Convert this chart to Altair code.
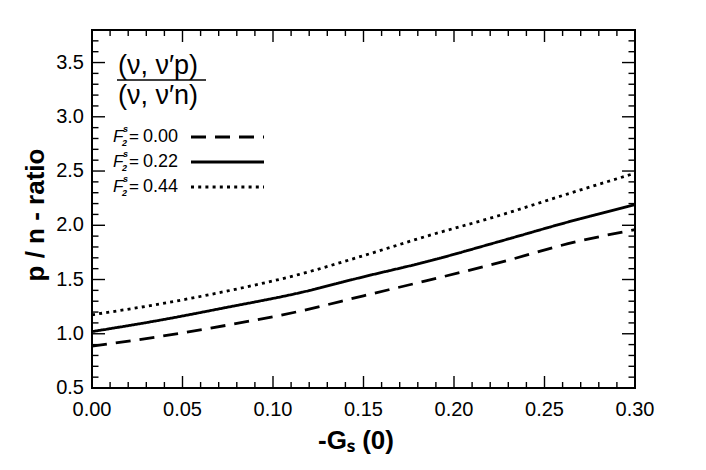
import altair as alt
import pandas as pd

# ---- data ----
gs_values = [0.0, 0.0375, 0.075, 0.114, 0.15, 0.185, 0.225, 0.263, 0.30]
ratio_f000 = [0.885, 0.975, 1.08, 1.205, 1.35, 1.49, 1.655, 1.83, 1.96]
ratio_f022 = [1.02, 1.125, 1.245, 1.375, 1.525, 1.665, 1.85, 2.03, 2.19]
ratio_f044 = [1.175, 1.275, 1.395, 1.545, 1.72, 1.90, 2.09, 2.29, 2.48]
series_labels = ["0.00", "0.22", "0.44"]

x_label_values = [0.0, 0.05, 0.10, 0.15, 0.20, 0.25, 0.30]
x_label_texts = ["0.00", "0.05", "0.10", "0.15", "0.20", "0.25", "0.30"]
y_label_values = [0.5, 1.0, 1.5, 2.0, 2.5, 3.0, 3.5]
y_label_texts = ["0.5", "1.0", "1.5", "2.0", "2.5", "3.0", "3.5"]
x_major_ticks = [0.05, 0.10, 0.15, 0.20, 0.25]
x_minor_ticks = [round(i * 0.01, 2) for i in range(1, 30) if i % 5 != 0]
y_major_ticks = [1.0, 1.5, 2.0, 2.5, 3.0, 3.5]
y_minor_ticks = [round(0.5 + i * 0.1, 1) for i in range(1, 33) if i % 5 != 0]

x_title = "-Gₛ (0)"
y_title = "p / n - ratio"

W, H = 543, 358
XD = [0.0, 0.30]
YD = [0.5, 3.8]
FONT = "Liberation Sans"

rows = []
for lab, vals in zip(series_labels, [ratio_f000, ratio_f022, ratio_f044]):
    for gx, gy in zip(gs_values, vals):
        rows.append({"gs": gx, "ratio": gy, "F": lab})
df = pd.DataFrame(rows)

dash_range = [[15, 9], [1, 0], [3, 4.2]]

xscale = alt.Scale(domain=XD, nice=False, zero=False)
yscale = alt.Scale(domain=YD, nice=False, zero=False)

# tick marks (inward, all four sides) drawn first
def yticks(vals, x0, x1):
    d = pd.DataFrame({"v": vals})
    return alt.Chart(d).mark_rule(color="black", strokeWidth=1.4).encode(
        y=alt.Y("v:Q", scale=yscale, axis=None), x=alt.value(x0), x2=alt.value(x1))

def xticks(vals, y0, y1):
    d = pd.DataFrame({"v": vals})
    return alt.Chart(d).mark_rule(color="black", strokeWidth=1.4).encode(
        x=alt.X("v:Q", scale=xscale, axis=None), y=alt.value(y0), y2=alt.value(y1))

ticks = [
    yticks(y_major_ticks, 0, 13), yticks(y_minor_ticks, 0, 6.5),
    yticks(y_major_ticks, W, W - 13), yticks(y_minor_ticks, W, W - 6.5),
    xticks(x_major_ticks, H, H - 12), xticks(x_minor_ticks, H, H - 6),
    xticks(x_major_ticks, 0, 12), xticks(x_minor_ticks, 0, 6),
]

lines = alt.Chart(df).mark_line(color="black", strokeWidth=2.8, strokeCap="butt",
                                interpolate="monotone").encode(
    x=alt.X("gs:Q", scale=xscale, axis=None),
    y=alt.Y("ratio:Q", scale=yscale, axis=None),
    strokeDash=alt.StrokeDash("F:N", scale=alt.Scale(domain=series_labels, range=dash_range),
                              legend=None),
    detail="F:N",
)

# tick labels placed through the scales
xlab = alt.Chart(pd.DataFrame({"xl": x_label_values, "t": x_label_texts})).mark_text(
    font=FONT, fontSize=20, color="black", align="center", baseline="middle").encode(
    x=alt.X("xl:Q", scale=xscale, axis=None), y=alt.value(H + 22), text="t:N")
ylab = alt.Chart(pd.DataFrame({"yl": y_label_values, "t": y_label_texts})).mark_text(
    font=FONT, fontSize=20, color="black", align="right", baseline="middle").encode(
    y=alt.Y("yl:Q", scale=yscale, axis=None), x=alt.value(-8), text="t:N")

def txt(s, x, y, size, **kw):
    return alt.Chart(pd.DataFrame({"t": [s]})).mark_text(
        font=FONT, fontSize=size, color="black", align=kw.pop("align", "left"),
        baseline="middle", **kw).encode(text="t:N", x=alt.value(x), y=alt.value(y))

titles = [
    txt(x_title, 264, 411, 26, align="center", fontWeight="bold"),
    txt(y_title, -56, 185, 26, align="center", fontWeight="bold", angle=270),
]

fraction = [
    txt("(ν, ν′p)", 26, 36, 27),
    txt("(ν, ν′n)", 26, 66, 27),
    alt.Chart(pd.DataFrame({"a": [0]})).mark_rule(color="black", strokeWidth=1.6).encode(
        x=alt.value(25), x2=alt.value(114), y=alt.value(50)),
]

legend = []
leg_y = [107, 132, 157]
for lab, dash, yy in zip(series_labels, dash_range, leg_y):
    legend += [
        txt("F", 21, yy, 17, fontStyle="italic"),
        txt("s", 31, yy - 8, 9, fontStyle="italic", fontWeight="bold"),
        txt("2", 30, yy + 6, 9, fontStyle="italic", fontWeight="bold"),
        txt("=", 37, yy, 17),
        txt(lab, 51, yy, 18),
        alt.Chart(pd.DataFrame({"a": [0]})).mark_rule(
            color="black", strokeWidth=2.8, strokeDash=dash, strokeCap="butt").encode(
            x=alt.value(99), x2=alt.value(172), y=alt.value(yy)),
    ]

chart = alt.layer(*ticks, lines, xlab, ylab, *titles, *fraction, *legend).properties(
    width=W, height=H,
    autosize=alt.AutoSizeParams(type="none"),
    padding={"left": 84, "top": 22, "right": 55, "bottom": 80},
).configure(background="white", view=alt.ViewConfig(stroke="black", strokeWidth=2))

chart.save("out.html", embed_options={"renderer": "svg", "actions": False})
